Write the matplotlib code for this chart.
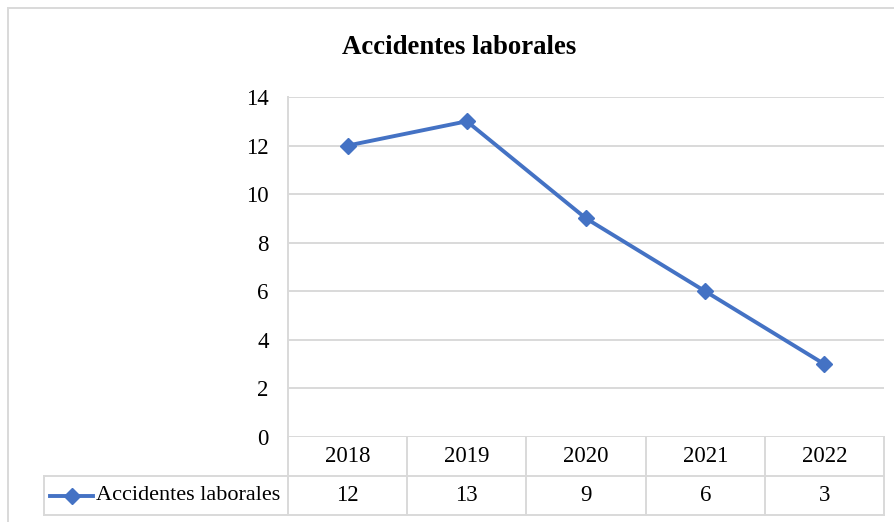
import matplotlib
matplotlib.use("Agg")
import matplotlib.pyplot as plt
from matplotlib.lines import Line2D
import matplotlib.transforms as mtransforms

years = ["2018", "2019", "2020", "2021", "2022"]
accidentes = [12, 13, 9, 6, 3]
series_name = "Accidentes laborales"
title = "Accidentes laborales"
yticks = [0, 2, 4, 6, 8, 10, 12, 14]

W, H = 894, 522
plt.rcParams["font.family"] = ["Liberation Serif", "DejaVu Serif"]
fig = plt.figure(figsize=(W / 100, H / 100), dpi=100)

def fx(px):
    return px / W

def fy(py):
    return 1 - py / H

grid = "#D9D9D9"
color = "#4472C4"
fs = 16.5

# outer chart border (right and bottom edges fall outside the image)
fig.patches.append(plt.Rectangle((fx(8), fy(530)), fx(900), 522 / H, transform=fig.transFigure,
                                 fill=False, edgecolor=grid, linewidth=1.4))

left, right, top, bottom = 288, 884, 97, 437
ax = fig.add_axes([fx(left), fy(bottom), fx(right - left), (bottom - top) / H])
x = list(range(len(years)))
ax.plot(x, accidentes, color=color, linewidth=2.8, marker="D", markersize=8.5, zorder=3)
ax.set_xlim(-0.5, len(years) - 0.5)
ax.set_ylim(0, 14)
ax.set_yticks(yticks)
ax.set_yticklabels([str(v) for v in yticks], fontsize=fs)
ax.tick_params(axis="y", length=0, pad=14)
ax.set_xticks([])
for v in yticks:
    ax.axhline(v, color=grid, linewidth=1.4, zorder=1)
for s in ["top", "right", "bottom"]:
    ax.spines[s].set_visible(False)
ax.spines["left"].set_color(grid)
ax.spines["left"].set_linewidth(1.4)

# data table drawn below axes
rowh = 39 / (bottom - top)
trans = mtransforms.blended_transform_factory(ax.transData, ax.transAxes)
lk = dict(color=grid, linewidth=1.4, clip_on=False, zorder=1)
ax.plot([-0.5, len(years) - 0.5], [-rowh, -rowh], transform=trans, **lk)
ax.plot([-0.5, len(years) - 0.5], [-2 * rowh, -2 * rowh], transform=trans, **lk)
for i in range(len(years) + 1):
    ax.plot([i - 0.5, i - 0.5], [0, -2 * rowh], transform=trans, **lk)
for i, (yr, v) in enumerate(zip(years, accidentes)):
    ax.text(i, -0.5 * rowh, yr, transform=trans, ha="center", va="center", fontsize=fs)
    ax.text(i, -1.5 * rowh, str(v), transform=trans, ha="center", va="center", fontsize=fs)

# legend cell
yr1 = fy(476)
yr2 = fy(515)
for seg in ([[fx(44), fx(288)], [yr1, yr1]], [[fx(44), fx(288)], [yr2, yr2]], [[fx(44), fx(44)], [yr1, yr2]]):
    fig.lines.append(Line2D(seg[0], seg[1], transform=fig.transFigure, color=grid, linewidth=1.4))
ym = (yr1 + yr2) / 2
fig.lines.append(Line2D([fx(50), fx(93)], [ym, ym], transform=fig.transFigure, color=color, linewidth=2.8))
fig.lines.append(Line2D([fx(71.5)], [ym], transform=fig.transFigure, color=color, marker="D",
                        markersize=8.5, linestyle="none"))
fig.text(fx(96), ym, series_name, ha="left", va="center", fontsize=16)

fig.text(fx(459), fy(48), title, ha="center", va="center", fontsize=19.3, fontweight="bold")

fig.savefig("out.png", dpi=100)
